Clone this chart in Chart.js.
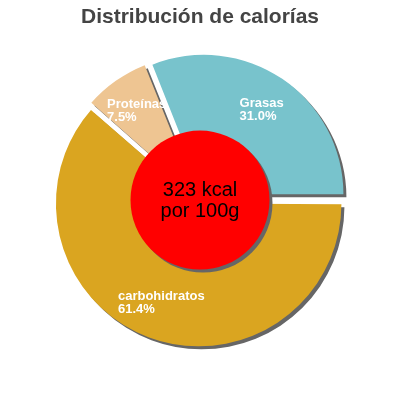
<!DOCTYPE html>
<html>
<head>
<meta charset="utf-8">
<script src="https://cdn.jsdelivr.net/npm/chart.js@4"></script>
<style>
  html, body { margin: 0; padding: 0; background: #fff; }
  #wrap { width: 400px; height: 400px; }
</style>
</head>
<body>
<div id="wrap"><canvas id="myChart" width="400" height="400"></canvas></div>
<script>
const categories = ['carbohidratos', 'Proteínas', 'Grasas'];
const percentages = [61.4, 7.5, 31.0];
const sliceColors = ['#daa520', '#eec592', '#78c3cc'];
const centerLines = ['323 kcal', 'por 100g'];
const chartTitle = 'Distribución de calorías';

// drop shadow under the slices
const shadowPlugin = {
  id: 'shadow',
  beforeDatasetsDraw(chart) {
    const ctx = chart.ctx;
    ctx.save();
    ctx.shadowColor = '#666';
    ctx.shadowOffsetX = 3;
    ctx.shadowOffsetY = 3;
    ctx.shadowBlur = 0;
  },
  afterDatasetsDraw(chart) {
    chart.ctx.restore();
  }
};

// red disc in the middle + slice labels
const overlayPlugin = {
  id: 'overlay',
  afterDatasetsDraw(chart) {
    const ctx = chart.ctx;
    const meta = chart.getDatasetMeta(0);
    const arc0 = meta.data[0];
    const cx = arc0.x;
    const cy = arc0.y;
    const r = arc0.outerRadius;

    // labels
    ctx.save();
    ctx.font = 'bold 13px "Liberation Sans", Arial, sans-serif';
    ctx.fillStyle = '#fff';
    ctx.textBaseline = 'middle';
    ctx.textAlign = 'left';
    meta.data.forEach((arc, i) => {
      const mid = (arc.startAngle + arc.endAngle) / 2;
      const lx = cx + Math.cos(mid) * r * 0.79;
      const ly = cy + Math.sin(mid) * r * 0.79;
      const line1 = categories[i];
      const line2 = percentages[i].toFixed(1) + '%';
      const w = Math.max(ctx.measureText(line1).width, ctx.measureText(line2).width);
      ctx.fillText(line1, lx - w / 2, ly - 6);
      ctx.fillText(line2, lx - w / 2, ly + 7);
    });
    ctx.restore();

    // center disc
    ctx.save();
    ctx.shadowColor = '#666';
    ctx.shadowOffsetX = 3;
    ctx.shadowOffsetY = 3;
    ctx.beginPath();
    ctx.arc(cx, cy, r / 2, 0, Math.PI * 2);
    ctx.fillStyle = '#ff0000';
    ctx.fill();
    ctx.restore();

    ctx.save();
    ctx.font = '20px "Liberation Sans", Arial, sans-serif';
    ctx.fillStyle = '#000';
    ctx.textAlign = 'center';
    ctx.textBaseline = 'middle';
    ctx.fillText(centerLines[0], cx, cy - 10);
    ctx.fillText(centerLines[1], cx, cy + 11);
    ctx.restore();
  }
};

const ctx = document.getElementById('myChart').getContext('2d');
new Chart(ctx, {
  type: 'pie',
  data: {
    labels: categories,
    datasets: [
      {
        data: percentages,
        backgroundColor: sliceColors,
        borderWidth: 0,
        // Chart.js scales offset by arc size; these give ~7px each
        offset: [15, 18, 28],
        hoverOffset: 0
      }
    ]
  },
  options: {
    responsive: false,
    animation: false,
    devicePixelRatio: 1,
    rotation: 90,
    radius: 139,
    layout: { padding: { top: 0, bottom: 35 } },
    plugins: {
      legend: { display: false },
      tooltip: { enabled: false },
      title: {
        display: true,
        text: chartTitle,
        color: '#444',
        font: { family: '"Liberation Sans", Arial, sans-serif', size: 21, weight: 'bold' },
        padding: { top: 5, bottom: 5 }
      }
    }
  },
  plugins: [shadowPlugin, overlayPlugin]
});
</script>
</body>
</html>
